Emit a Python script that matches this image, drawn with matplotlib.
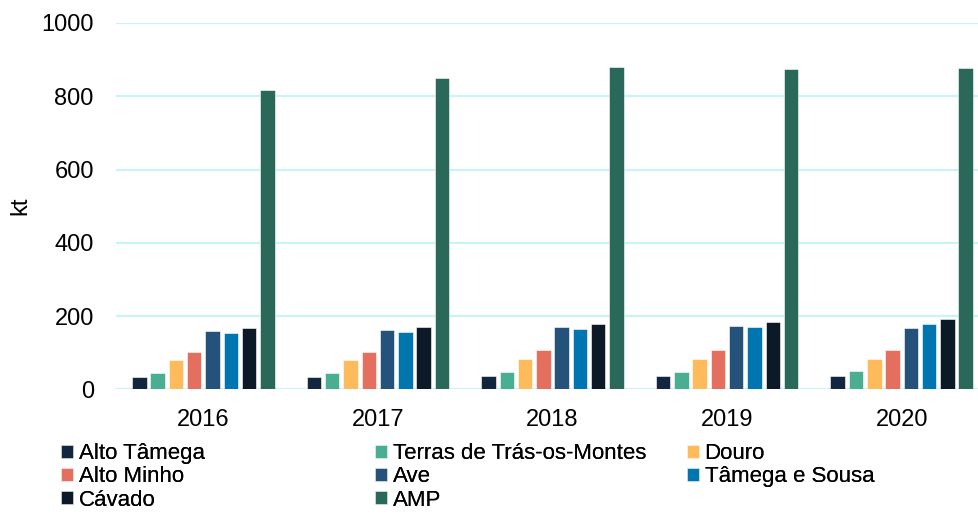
import numpy as np
import matplotlib
matplotlib.use("Agg")
import matplotlib.pyplot as plt

plt.rcParams['font.family'] = ['Liberation Sans', 'DejaVu Sans']

years = ['2016', '2017', '2018', '2019', '2020']
regions = ['Alto Tâmega', 'Terras de Trás-os-Montes', 'Douro', 'Alto Minho',
           'Ave', 'Tâmega e Sousa', 'Cávado', 'AMP']

alto_tamega = [33, 33, 35, 35, 35]
terras = [45, 45, 48, 48, 50]
douro = [79, 81, 83, 83, 84]
alto_minho = [102, 103, 106, 108, 107]
ave = [158, 161, 169, 172, 167]
tamega_sousa = [155, 157, 164, 169, 177]
cavado = [168, 171, 177, 185, 192]
amp = [818, 851, 880, 873, 878]

series = [alto_tamega, terras, douro, alto_minho, ave, tamega_sousa, cavado, amp]
colors = ['#12263f', '#4aae93', '#fdbb5c', '#e46f5e',
          '#25527a', '#0075b0', '#0c1a27', '#2a6859']

fig = plt.figure(figsize=(9.79, 5.16), dpi=100)
ax = fig.add_axes([0.1185, 0.2455, 1 - 0.1185, 0.71])

x = np.arange(len(years))
pitch = 0.1048
width = 0.083
handles = []
for i, (vals, col) in enumerate(zip(series, colors)):
    off = (i - 3.5) * pitch
    b = ax.bar(x + off, vals, width, color=col, edgecolor='white',
               linewidth=0.4, zorder=3, label=regions[i])
    handles.append(b)

ax.set_ylim(0, 1000)
ax.set_xlim(-0.5, 4.5 - 10 / 174.6)
ax.set_yticks(range(0, 1001, 200))
ax.set_xticks(x)
ax.set_xticklabels(years)
ax.yaxis.grid(True, color='#c9f3f4', linewidth=1.6, zorder=0)
ax.set_axisbelow(True)
for s in ax.spines.values():
    s.set_visible(False)
ax.tick_params(axis='both', length=0, labelsize=17)
ax.tick_params(axis='x', pad=14)
ax.tick_params(axis='y', pad=16)
ax.set_ylabel('kt', fontsize=17, labelpad=7)

# legend: three columns of equal width, like the original
cols = [[0, 3, 6], [1, 4, 7], [2, 5]]
xs = [0.0623, 0.383, 0.7017]
for cx, idx in zip(xs, cols):
    leg = fig.legend([handles[k] for k in idx], [regions[k] for k in idx],
                     loc='upper left', bbox_to_anchor=(cx, 0.141),
                     frameon=False, fontsize=16, handlelength=0.54,
                     handleheight=0.54, handletextpad=0.25, labelspacing=0.1,
                     borderpad=0, borderaxespad=0)
    fig.add_artist(leg)

fig.savefig('out.png', dpi=100)
